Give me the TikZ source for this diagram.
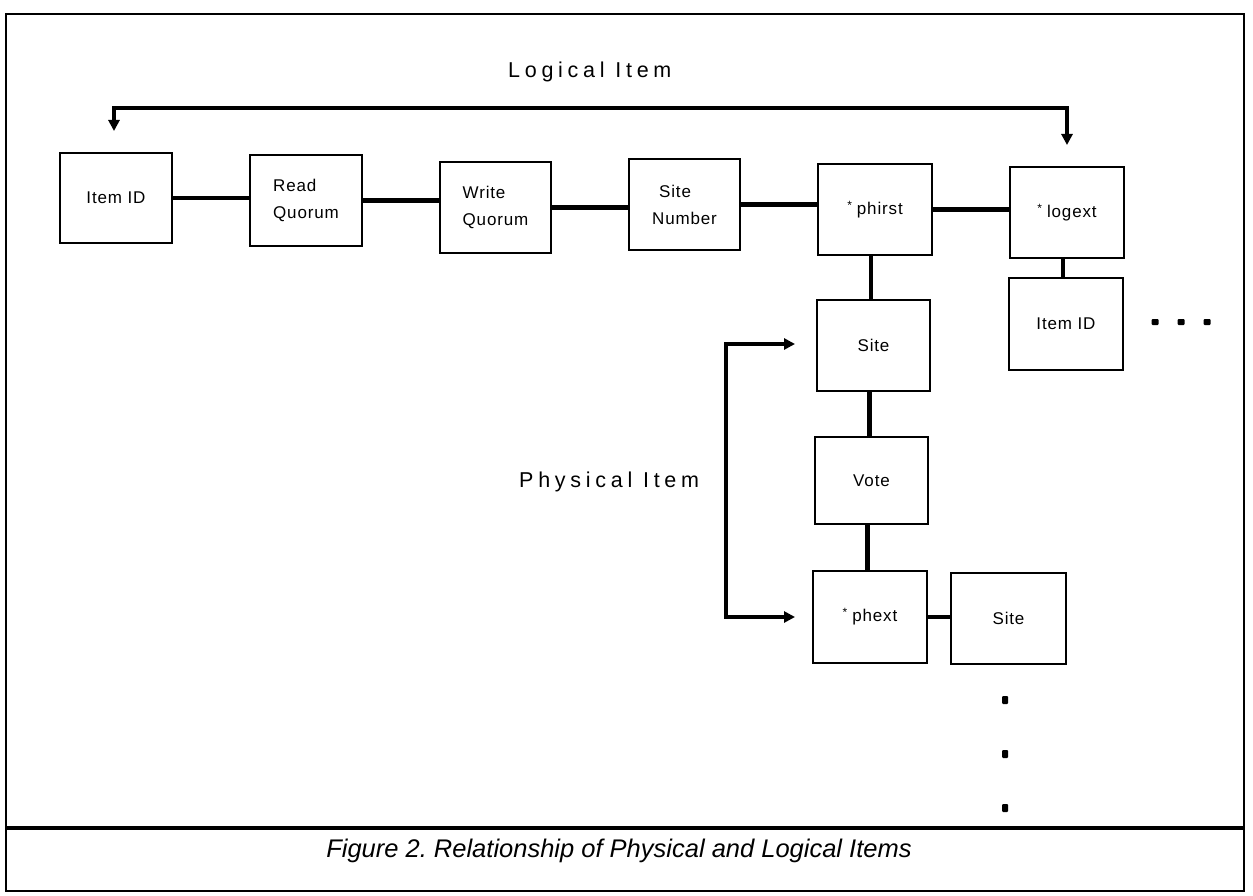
\documentclass[tikz,border=0pt]{standalone}
\usepackage{fontspec}
\setmainfont{Liberation Sans}
\newfontfamily\boxfont[LetterSpace=5]{Liberation Sans}
\newfontfamily\labfont[LetterSpace=22]{Liberation Sans}
\usetikzlibrary{arrows.meta}
\frenchspacing
\newcommand{\pstar}{{\raisebox{0.3em}{\fontsize{12}{12}\selectfont *}}\hspace{5pt}}
\begin{document}
\begin{tikzpicture}[x=1pt,y=-1pt,
  box/.style={draw, line width=2pt, rectangle, inner sep=0pt,
    font=\boxfont\fontsize{17}{27}\selectfont, align=center},
  boxl/.style={box, align=left},
  conn/.style={line width=4.5pt},
  brk/.style={line width=4pt, line join=miter,
    {Triangle[length=11pt,width=11pt]}-{Triangle[length=11pt,width=11pt]}},
  lab/.style={font=\labfont\fontsize{21.5}{24}\selectfont, inner sep=0pt},
  dot/.style={fill, rectangle, inner sep=0pt, minimum width=7pt, minimum height=6pt, rounded corners=1pt},
  frame/.style={line width=2pt}
]
\useasboundingbox (0,0) rectangle (1253,896);
% frame
\draw[frame] (6,14) rectangle (1244,891);
\draw[line width=3.5pt] (6,828) -- (1244,828);
\node[font=\itshape\fontsize{25.5}{28}\selectfont, anchor=base, inner sep=0pt] (cap) at (619,857)
  {Figure 2. Relationship of Physical and Logical Items};

% top row
\node[box, minimum width=112pt, minimum height=90pt] (id1) at (116,198) {Item ID};
\node[boxl, minimum width=112pt, minimum height=91pt] (rq) at (306,200.5) {Read\\Quorum};
\node[boxl, minimum width=111pt, minimum height=91pt] (wq) at (495.5,207.5) {Write\\Quorum};
\node[boxl, minimum width=111pt, minimum height=91pt] (sn) at (684.5,204.5) {\hspace*{7pt}Site\\Number};
\node[box, minimum width=114pt, minimum height=91pt] (ph) at (875,209.5) {\pstar phirst};
\node[box, minimum width=114pt, minimum height=91pt] (lg) at (1067,212.5) {\pstar logext};
\node[box, minimum width=114pt, minimum height=92pt] (id2) at (1066,324) {Item ID};
% physical column
\node[box, minimum width=113pt, minimum height=91pt] (site) at (873.5,345.5) {Site};
\node[box, minimum width=113pt, minimum height=87pt] (vote) at (871.5,480.5) {Vote};
\node[box, minimum width=114pt, minimum height=92pt] (phx) at (870,617) {\pstar phext};
\node[box, minimum width=115pt, minimum height=91pt] (site3) at (1008.5,618.5) {Site};

% connectors
\draw[conn] (id1.east) -- (id1.east -| rq.west);
\draw[conn] (rq.east) -- (rq.east -| wq.west);
\draw[conn] (wq.east) -- (wq.east -| sn.west);
\draw[conn] (sn.east) -- (sn.east -| ph.west);
\draw[conn] (ph.east) -- (ph.east -| lg.west);
\draw[conn] ([xshift=-4pt]lg.south) -- ([xshift=-4pt]lg.south |- id2.north);
\draw[conn] ([xshift=-4pt]ph.south) -- ([xshift=-4pt]ph.south |- site.north);
\draw[conn] ([xshift=-4pt]site.south) -- ([xshift=-4pt]site.south |- vote.north);
\draw[conn] ([xshift=-4pt]vote.south) -- ([xshift=-4pt]vote.south |- phx.north);
\draw[conn] (phx.east) -- (phx.east -| site3.west);

% logical bracket
\node[lab, anchor=base west] (ltxt) at (508,78) {Logical Item};
\coordinate (lt1) at ([xshift=-2pt,yshift=21pt]id1.north);
\coordinate (lt2) at ([yshift=21pt]lg.north);
\coordinate (lc1) at (lt1 |- 0,108);
\coordinate (lc2) at (lt2 |- 0,108);
\draw[brk] (lt1) -- (lc1) -- (lc2) -- (lt2);

% physical bracket
\node[lab, anchor=base west] (ptxt) at (519,487) {Physical Item};
\coordinate (pt1) at (795,344);
\coordinate (pt2) at (795,617);
\coordinate (pc1) at (726,344);
\coordinate (pc2) at (726,617);
\draw[brk] (pt1) -- (pc1) -- (pc2) -- (pt2);

% continuation dots
\node[dot] (h1) at (1155,322) {};
\node[dot] (h2) at (1181,322) {};
\node[dot] (h3) at (1207,322) {};
\node[dot, minimum width=6pt, minimum height=8pt] (v1) at (1005,700) {};
\node[dot, minimum width=6pt, minimum height=8pt] (v2) at (1005,754) {};
\node[dot, minimum width=6pt, minimum height=8pt] (v3) at (1005,808) {};
\end{tikzpicture}
\end{document}
